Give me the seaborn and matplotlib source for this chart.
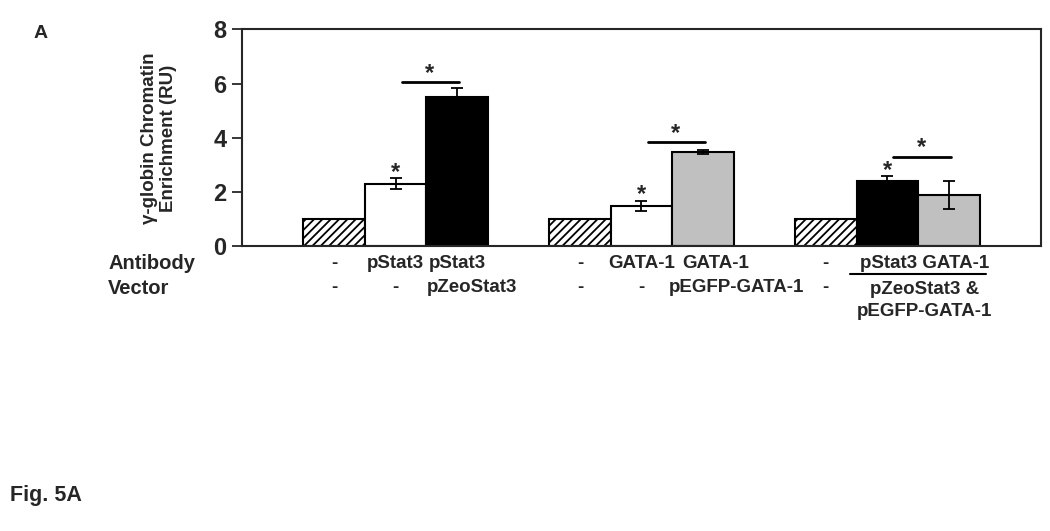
import matplotlib
import numpy as np
import pandas as pd
import seaborn as sns

matplotlib.use("Agg")
import matplotlib.pyplot as plt

# bar values (relative units)
groups = ["Stat3", "GATA-1", "Stat3 + GATA-1"]
conditions = ["control", "antibody", "antibody + vector"]
values = [1.0, 2.32, 5.52, 1.0, 1.50, 3.48, 1.0, 2.43, 1.90]
errors = [0.0, 0.20, 0.31, 0.0, 0.19, 0.08, 0.0, 0.16, 0.50]
bar_colors = ["white", "white", "black", "white", "white", "#c0c0c0",
              "white", "black", "#c0c0c0"]
hatched = [True, False, False, True, False, False, True, False, False]

antibody_labels = ["-", "pStat3", "pStat3", "-", "GATA-1", "GATA-1", "-", "", ""]
vector_labels = ["-", "-", "pZeoStat3", "-", "-", "pEGFP-GATA-1", "-", "", ""]

# significance marks: stars above single bars, brackets between two bars
star_bars = [1, 4, 7]
brackets = [(1, 2, 6.05), (4, 5, 3.84), (7, 8, 3.31)]

positions = [4 * g + j + 1.5 for g in range(len(groups)) for j in range(len(conditions))]
df = pd.DataFrame({"pos": positions, "value": values})

sns.set_style("ticks")
plt.rcParams["font.family"] = ["Liberation Sans", "DejaVu Sans"]
plt.rcParams["font.weight"] = "bold"
plt.rcParams["hatch.linewidth"] = 1.3

fig = plt.figure(figsize=(10.5, 5.31), dpi=100)
ax = fig.add_axes([0.2305, 0.5358, 0.7609, 0.4087])

sns.barplot(data=df, x="pos", y="value", native_scale=True, width=1.0,
            color="white", errorbar=None, ax=ax)
for patch, c, h in zip(ax.patches, bar_colors, hatched):
    patch.set_facecolor(c)
    patch.set_edgecolor("black")
    patch.set_linewidth(1.5)
    if h:
        patch.set_hatch("////")

err_x = [p for p, e in zip(positions, errors) if e > 0]
err_y = [v for v, e in zip(values, errors) if e > 0]
err_e = [e for e in errors if e > 0]
ax.errorbar(err_x, err_y, yerr=err_e, fmt="none", ecolor="black",
            elinewidth=1.3, capsize=4, capthick=1.3)

B = dict(fontweight="bold")
for i in star_bars:
    ax.text(positions[i], values[i] + errors[i] - 0.2, "*", ha="center",
            va="bottom", fontsize=17, **B)
for a, b, y in brackets:
    ax.plot([positions[a] + 0.1, positions[b] + 0.03], [y, y], color="black", lw=2)
    ax.text((positions[a] + positions[b]) / 2 + 0.05, y - 0.1, "*", ha="center",
            va="bottom", fontsize=17, **B)

ax.set_xlim(0, 13)
ax.set_ylim(0, 8)
ax.set_yticks([0, 2, 4, 6, 8])
ax.set_xticks([])
ax.set_xlabel("")
ax.set_ylabel("γ-globin Chromatin\nEnrichment (RU)", fontsize=13.5, labelpad=26,
              linespacing=1.2, **B)
ax.tick_params(axis="y", labelsize=17, length=7, width=1.3, pad=4)
for lab in ax.get_yticklabels():
    lab.set_fontweight("bold")
for s in ax.spines.values():
    s.set_linewidth(1.5)
    s.set_visible(True)

# row labels under the bars
row_y = [-0.61, -1.53]
ab_off = [0, 0, 0, 0, 0, 0.2, 0, 0, 0]
vec_off = [0, 0, 0.25, 0, 0, 0.55, 0, 0, 0]
for i, (ab, vec) in enumerate(zip(antibody_labels, vector_labels)):
    ax.text(positions[i] + ab_off[i], row_y[0], ab, ha="center",
            va="center", fontsize=13.5, clip_on=False, **B)
    ax.text(positions[i] + vec_off[i], row_y[1], vec, ha="center", va="center",
            fontsize=13.5, clip_on=False, **B)

combo_x = (positions[7] + positions[8]) / 2 + 0.1
ax.text(combo_x, row_y[0], "pStat3 GATA-1", ha="center", va="center",
        fontsize=13.5, clip_on=False, **B)
ax.plot([positions[7] - 0.6, positions[8] + 0.6], [-1.03, -1.03], color="black",
        lw=1.5, clip_on=False)
ax.text(combo_x, -2.0, "pZeoStat3 &\npEGFP-GATA-1", ha="center", va="center",
        fontsize=13.5, linespacing=1.35, clip_on=False, **B)

fig.text(0.103, 1 - 263 / 531, "Antibody", ha="left", va="center", fontsize=14.5, **B)
fig.text(0.103, 1 - 288 / 531, "Vector", ha="left", va="center", fontsize=14.5, **B)
fig.text(0.032, 1 - 33 / 531, "A", ha="left", va="center", fontsize=14, **B)
fig.text(0.010, 1 - 496 / 531, "Fig. 5A", ha="left", va="center", fontsize=15.5, **B)

fig.savefig("out.png", dpi=100)
plt.close(fig)
